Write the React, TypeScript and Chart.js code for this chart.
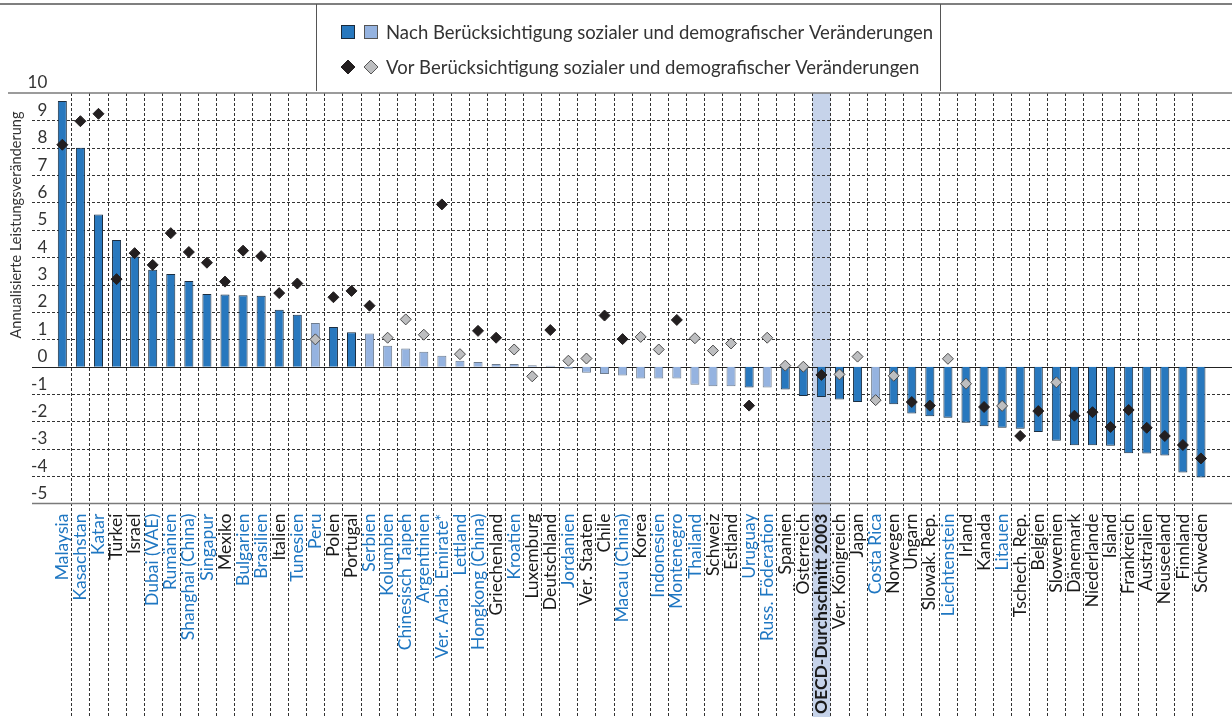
import React, { useEffect, useRef } from "react";
import { Chart, registerables } from "chart.js";

Chart.register(...registerables);

const categories = [
  "Malaysia", "Kasachstan", "Katar", "Türkei", "Israel", "Dubai (VAE)", "Rumänien", "Shanghai (China)",
  "Singapur", "Mexiko", "Bulgarien", "Brasilien", "Italien", "Tunesien", "Peru", "Polen",
  "Portugal", "Serbien", "Kolumbien", "Chinesisch Taipeh", "Argentinien", "Ver. Arab. Emirate*", "Lettland", "Hongkong (China)",
  "Griechenland", "Kroatien", "Luxemburg", "Deutschland", "Jordanien", "Ver. Staaten", "Chile", "Macau (China)",
  "Korea", "Indonesien", "Montenegro", "Thailand", "Schweiz", "Estland", "Uruguay", "Russ. Föderation",
  "Spanien", "Österreich", "OECD-Durchschnitt 2003", "Ver. Königreich", "Japan", "Costa Rica", "Norwegen", "Ungarn",
  "Slowak. Rep.", "Liechtenstein", "Irland", "Kanada", "Litauen", "Tschech. Rep.", "Belgien", "Slowenien",
  "Dänemark", "Niederlande", "Island", "Frankreich", "Australien", "Neuseeland", "Finnland", "Schweden",
];

// "Nach Berücksichtigung ..." (bars)
const afterValues = [
  9.71, 8.0, 5.56, 4.63, 4.03, 3.54, 3.39, 3.13, 2.66, 2.64,
  2.61, 2.59, 2.08, 1.9, 1.6, 1.45, 1.26, 1.21, 0.77, 0.67,
  0.55, 0.4, 0.22, 0.17, 0.1, 0.1, 0.05, 0.04, -0.07, -0.22,
  -0.27, -0.32, -0.43, -0.43, -0.43, -0.66, -0.71, -0.71, -0.76, -0.76,
  -0.83, -1.07, -1.11, -1.2, -1.29, -1.22, -1.37, -1.71, -1.81, -1.86,
  -2.05, -2.17, -2.23, -2.27, -2.38, -2.7, -2.87, -2.87, -2.89, -3.16,
  -3.17, -3.24, -3.86, -4.05,
];

// "Vor Berücksichtigung ..." (diamonds)
const beforeValues = [
  8.11, 8.97, 9.24, 3.2, 4.15, 3.72, 4.88, 4.19, 3.8, 3.11,
  4.24, 4.04, 2.69, 3.04, 1.0, 2.54, 2.77, 2.23, 1.06, 1.73,
  1.17, 5.93, 0.46, 1.31, 1.06, 0.63, -0.35, 1.34, 0.22, 0.3,
  1.87, 1.01, 1.09, 0.63, 1.71, 1.04, 0.59, 0.85, -1.42, 1.06,
  0.04, 0.0, -0.3, -0.28, 0.37, -1.22, -0.33, -1.29, -1.42, 0.29,
  -0.62, -1.47, -1.43, -2.53, -1.62, -0.57, -1.79, -1.66, -2.2, -1.58,
  -2.23, -2.53, -2.86, -3.35,
];

// bar significance: d = dark (significant), l = light
const barShade = [
  "d", "d", "d", "d", "d", "d", "d", "d", "d", "d",
  "d", "d", "d", "d", "l", "d", "d", "l", "l", "l",
  "l", "l", "l", "l", "l", "l", "l", "l", "l", "l",
  "l", "l", "l", "l", "l", "l", "l", "l", "d", "l",
  "d", "d", "d", "d", "d", "l", "d", "d", "d", "d",
  "d", "d", "d", "d", "d", "d", "d", "d", "d", "d",
  "d", "d", "d", "d",
];

// diamond significance: d = dark, g = grey
const diamondShade = [
  "d", "d", "d", "d", "d", "d", "d", "d", "d", "d",
  "d", "d", "d", "d", "g", "d", "d", "d", "g", "g",
  "g", "d", "g", "d", "d", "g", "g", "d", "g", "g",
  "d", "d", "g", "g", "d", "g", "g", "g", "d", "g",
  "g", "g", "d", "g", "g", "g", "g", "d", "d", "g",
  "g", "d", "g", "d", "d", "g", "d", "d", "d", "d",
  "d", "d", "d", "d",
];

// label group: p = partner (blue), o = OECD (black), a = average (bold)
const labelGroup = [
  "p", "p", "p", "o", "o", "p", "p", "p", "p", "o",
  "p", "p", "o", "p", "p", "o", "o", "p", "p", "p",
  "p", "p", "p", "p", "o", "p", "o", "o", "p", "o",
  "o", "p", "o", "p", "p", "p", "o", "o", "p", "p",
  "o", "o", "a", "o", "o", "p", "o", "o", "o", "p",
  "o", "o", "p", "o", "o", "o", "o", "o", "o", "o",
  "o", "o", "o", "o",
];

const yTicks = [-5, -4, -3, -2, -1, 0, 1, 2, 3, 4, 5, 6, 7, 8, 9, 10];

const legendLabels = [
  "Nach Berücksichtigung sozialer und demografischer Veränderungen",
  "Vor Berücksichtigung sozialer und demografischer Veränderungen",
];
const axisTitle = "Annualisierte Leistungsveränderung";

const DARK_BLUE = "#2878BE";
const LIGHT_BLUE = "#95B3E0";
const DARK_DIAMOND = "#231F20";
const GREY_DIAMOND = "#BDBEC0";
const PARTNER_TEXT = "#1F77C2";
const FONT = "Lato, 'Open Sans', sans-serif";

const W = 1232;
const H = 717;

const customPlugin = {
  id: "customDecor",
  beforeDraw(chart: any) {
    const { ctx, chartArea } = chart;
    const x = chart.scales.x;
    const y = chart.scales.y;
    const half = (x.getPixelForValue(1) - x.getPixelForValue(0)) / 2;
    ctx.save();
    // OECD band
    const oi = labelGroup.indexOf("a");
    const bx = x.getPixelForValue(oi);
    ctx.fillStyle = "#C6D3EA";
    ctx.fillRect(bx - half, chartArea.top, 2 * half, H - chartArea.top);

    const line = (x1: number, y1: number, x2: number, y2: number) => {
      ctx.beginPath();
      ctx.moveTo(x1, y1);
      ctx.lineTo(x2, y2);
      ctx.stroke();
    };
    // horizontal dashed grid
    ctx.strokeStyle = "#333";
    ctx.lineWidth = 1;
    ctx.setLineDash([3, 2]);
    for (const t of yTicks) {
      if (t === yTicks[0] || t === yTicks[yTicks.length - 1] || t === 0) continue;
      const py = Math.round(y.getPixelForValue(t)) + 0.5;
      line(32, py, W, py);
    }
    // vertical dashed grid (category boundaries)
    for (let i = 0; i < categories.length - 1; i++) {
      const px = Math.round(x.getPixelForValue(i) + half) + 0.5;
      line(px, chartArea.top, px, H);
    }
    ctx.setLineDash([]);
    // top & bottom frame
    ctx.strokeStyle = "#7A7A7A";
    ctx.lineWidth = 1.5;
    const topY = y.getPixelForValue(yTicks[yTicks.length - 1]);
    const botY = y.getPixelForValue(yTicks[0]);
    line(8, topY, W, topY);
    line(32, botY, W, botY);
    // figure top line and legend box
    ctx.strokeStyle = "#555";
    ctx.lineWidth = 1.5;
    line(0, 4, W, 4);
    ctx.lineWidth = 1;
    line(316.5, 4, 316.5, 91);
    line(940.5, 4, 940.5, 91);
    ctx.restore();
  },
  beforeDatasetsDraw(chart: any) {
    const { ctx } = chart;
    const y = chart.scales.y;
    const py = Math.round(y.getPixelForValue(0)) + 0.5;
    ctx.save();
    ctx.strokeStyle = "#222";
    ctx.lineWidth = 1.2;
    ctx.beginPath();
    ctx.moveTo(32, py);
    ctx.lineTo(W, py);
    ctx.stroke();
    ctx.restore();
  },
  afterDraw(chart: any) {
    const { ctx } = chart;
    ctx.save();
    // legend
    ctx.lineWidth = 1;
    ctx.fillStyle = DARK_BLUE;
    ctx.fillRect(341.5, 25.5, 13, 13);
    ctx.strokeStyle = "#1A2A3A";
    ctx.strokeRect(341.5, 25.5, 13, 13);
    ctx.fillStyle = LIGHT_BLUE;
    ctx.fillRect(364.5, 25.5, 13, 13);
    ctx.strokeStyle = "#555";
    ctx.strokeRect(364.5, 25.5, 13, 13);
    const diamond = (cx: number, cy: number, r: number, fill: string, stroke: string) => {
      ctx.beginPath();
      ctx.moveTo(cx, cy - r);
      ctx.lineTo(cx + r, cy);
      ctx.lineTo(cx, cy + r);
      ctx.lineTo(cx - r, cy);
      ctx.closePath();
      ctx.fillStyle = fill;
      ctx.fill();
      ctx.strokeStyle = stroke;
      ctx.stroke();
    };
    diamond(348, 67, 7, DARK_DIAMOND, DARK_DIAMOND);
    diamond(371, 67, 7, GREY_DIAMOND, "#555");
    ctx.fillStyle = "#333";
    ctx.font = `18.5px ${FONT}`;
    ctx.textAlign = "left";
    ctx.textBaseline = "middle";
    ctx.fillText(legendLabels[0], 386, 33);
    ctx.fillText(legendLabels[1], 386, 68);
    // axis title
    ctx.translate(16, 225);
    ctx.rotate(-Math.PI / 2);
    ctx.font = `14.5px ${FONT}`;
    ctx.fillStyle = "#333";
    ctx.textAlign = "center";
    ctx.fillText(axisTitle, 0, 0);
    ctx.restore();
  },
};

export default function App() {
  const ref = useRef<HTMLCanvasElement | null>(null);
  useEffect(() => {
    document.body.style.margin = "0";
    const canvas = ref.current;
    if (!canvas) return;
    const chart = new Chart(canvas, {
      type: "bar",
      data: {
        labels: categories,
        datasets: [
          {
            type: "line",
            label: legendLabels[1],
            data: beforeValues,
            showLine: false,
            pointStyle: "rectRot",
            pointRadius: 5.5,
            pointHoverRadius: 5.5,
            pointBorderWidth: 1,
            pointBackgroundColor: diamondShade.map((s) => (s === "d" ? DARK_DIAMOND : GREY_DIAMOND)),
            pointBorderColor: diamondShade.map((s) => (s === "d" ? DARK_DIAMOND : "#4A4A4A")),
            order: 1,
          } as any,
          {
            type: "bar",
            label: legendLabels[0],
            data: afterValues,
            backgroundColor: barShade.map((s) => (s === "d" ? DARK_BLUE : LIGHT_BLUE)),
            borderColor: barShade.map((s) => (s === "d" ? "#1C2E40" : "#6E7C8E")),
            borderWidth: 1,
            barPercentage: 0.5,
            categoryPercentage: 1,
            order: 2,
          },
        ],
      },
      options: {
        responsive: false,
        animation: false,
        events: [],
        layout: { padding: { top: 93, left: 0, right: 0, bottom: 0 } },
        plugins: {
          legend: { display: false },
          tooltip: { enabled: false },
        },
        scales: {
          x: {
            offset: true,
            grid: { display: false, drawTicks: false },
            border: { display: false },
            afterFit: (s: any) => {
              s.height = 213.4;
            },
            ticks: {
              autoSkip: false,
              maxRotation: 90,
              minRotation: 90,
              padding: 10,
              color: (c: any) => (labelGroup[c.index] === "p" ? PARTNER_TEXT : "#1A1A1A"),
              font: (c: any) => ({
                family: FONT,
                size: 17.5,
                weight: labelGroup[c.index] === "a" ? "bold" : "normal",
              }),
            },
          },
          y: {
            min: yTicks[0],
            max: yTicks[yTicks.length - 1],
            grid: { display: false, drawTicks: false },
            border: { display: false },
            afterFit: (s: any) => {
              s.width = 53.3;
            },
            ticks: {
              stepSize: 1,
              padding: 6,
              labelOffset: -10,
              color: "#333",
              font: { family: FONT, size: 17 },
              callback: (v: any) => String(v),
            },
          },
        },
      },
      plugins: [customPlugin],
    });
    return () => chart.destroy();
  }, []);
  return (
    <div style={{ width: W, height: H, background: "#fff" }}>
      <canvas ref={ref} width={W} height={H} style={{ display: "block" }} />
    </div>
  );
}
